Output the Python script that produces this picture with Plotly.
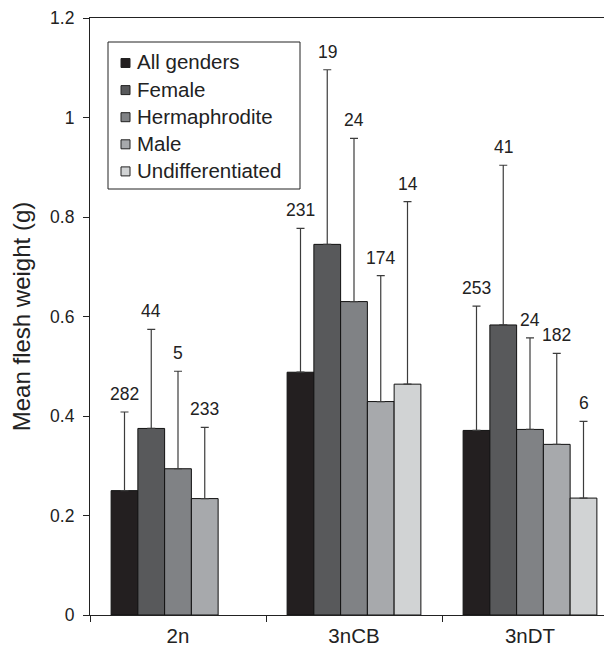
import plotly.graph_objects as go

categories = ["2n", "3nCB", "3nDT"]
series_names = ["All genders", "Female", "Hermaphrodite", "Male", "Undifferentiated"]
means = {
    "All genders":      [0.250, 0.488, 0.371],
    "Female":           [0.375, 0.745, 0.583],
    "Hermaphrodite":    [0.294, 0.630, 0.373],
    "Male":             [0.234, 0.429, 0.343],
    "Undifferentiated": [None, 0.464, 0.235],
}
upper_sd = {
    "All genders":      [0.158, 0.289, 0.250],
    "Female":           [0.199, 0.351, 0.321],
    "Hermaphrodite":    [0.196, 0.328, 0.184],
    "Male":             [0.143, 0.253, 0.183],
    "Undifferentiated": [None, 0.367, 0.154],
}
counts = {
    "All genders":      ["282", "231", "253"],
    "Female":           ["44", "19", "41"],
    "Hermaphrodite":    ["5", "24", "24"],
    "Male":             ["233", "174", "182"],
    "Undifferentiated": [None, "14", "6"],
}
colors = ["#231f20", "#58595b", "#808285", "#a7a9ac", "#d1d3d4"]
y_ticks = [0, 0.2, 0.4, 0.6, 0.8, 1.0, 1.2]
y_ticktext = ["0", "0.2", "0.4", "0.6", "0.8", "1", "1.2"]

FONT = "Arial, Liberation Sans, Helvetica, sans-serif"
INK = "#222222"
BARGAP = 0.24

# Page has an 8px body margin; compensate so the plot area sits at
# page x 90..612, y 18..615.
FIG_W, FIG_H = 604, 640
M_L, M_R, M_T, M_B = 82, 0, 10, 33
PLOT_W = FIG_W - M_L - M_R
PLOT_H = FIG_H - M_T - M_B
PAGE_X0, PAGE_Y1 = 8 + M_L, 8 + M_T + PLOT_H


def px(x):
    return (x - PAGE_X0) / PLOT_W


def py(y):
    return (PAGE_Y1 - y) / PLOT_H


fig = go.Figure()
for name, col in zip(series_names, colors):
    fig.add_trace(go.Bar(
        name=name, x=categories, y=means[name],
        marker=dict(color=col, line=dict(color="#111111", width=1)),
        error_y=dict(type="data", symmetric=False, array=upper_sd[name],
                     arrayminus=[0] * len(categories),
                     color="#3c3c3c", thickness=1.2, width=4),
    ))

# n labels above the error bars
n_series = len(series_names)
w = (1 - BARGAP) / n_series
for si, name in enumerate(series_names):
    for ci, cat in enumerate(categories):
        m = means[name][ci]
        if m is None:
            continue
        top = m + upper_sd[name][ci]
        fig.add_annotation(
            x=ci + (si - (n_series - 1) / 2) * w, y=top,
            xref="x", yref="y", text=counts[name][ci], showarrow=False,
            yanchor="bottom", yshift=6,
            font=dict(family=FONT, size=17.5, color=INK),
        )

# Legend box (drawn to match the reference's compact layout)
LEG_X0, LEG_X1, LEG_Y0, LEG_Y1 = 108, 300, 42, 189
ROW0, ROW_STEP = 62, 27.1
SQ = 9
SQ_CX, TEXT_X = 125.5, 135
fig.add_shape(type="rect", xref="paper", yref="paper",
              x0=px(LEG_X0), x1=px(LEG_X1), y0=py(LEG_Y1), y1=py(LEG_Y0),
              line=dict(color=INK, width=1), fillcolor="white", layer="above")
for i, (name, col) in enumerate(zip(series_names, colors)):
    cy = ROW0 + i * ROW_STEP
    fig.add_shape(type="rect", xref="paper", yref="paper",
                  x0=px(SQ_CX - SQ / 2), x1=px(SQ_CX + SQ / 2),
                  y0=py(cy + 1 + SQ / 2), y1=py(cy + 1 - SQ / 2),
                  line=dict(color=INK, width=1), fillcolor=col, layer="above")
    fig.add_annotation(x=px(TEXT_X), y=py(cy), xref="paper", yref="paper",
                       text=name, showarrow=False, xanchor="left",
                       yanchor="middle",
                       font=dict(family=FONT, size=20.5, color=INK))

fig.update_layout(
    width=FIG_W, height=FIG_H,
    margin=dict(l=M_L, r=M_R, t=M_T, b=M_B),
    paper_bgcolor="white", plot_bgcolor="white",
    barmode="group", bargap=BARGAP, bargroupgap=0,
    font=dict(family=FONT, color=INK),
    showlegend=False,
)
fig.update_xaxes(
    type="category", range=[-0.5, -0.5 + PLOT_W / 176],
    showline=True, linecolor=INK, linewidth=1.2, mirror=True,
    ticks="outside", tickson="boundaries", ticklen=6, tickcolor=INK,
    tickfont=dict(family=FONT, size=20.5, color=INK),
    ticklabelstandoff=2,
    showgrid=False, zeroline=False,
)
fig.update_yaxes(
    range=[0, 1.2], tickvals=y_ticks, ticktext=y_ticktext,
    showline=True, linecolor=INK, linewidth=1.2,
    ticks="outside", ticklen=6, tickcolor=INK,
    tickfont=dict(family=FONT, size=17.5, color=INK),
    ticklabelstandoff=5,
    showgrid=False, zeroline=False,
    title=dict(text="Mean flesh weight (g)", standoff=16,
               font=dict(family=FONT, size=24, color=INK)),
)

fig.write_html("out.html")
